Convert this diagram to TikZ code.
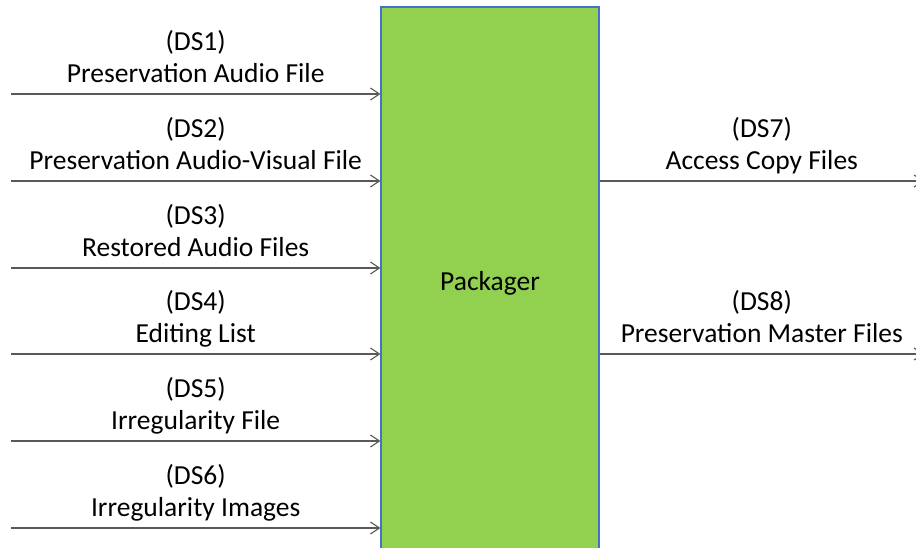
\documentclass[tikz,border=0pt]{standalone}
\usepackage{fontspec}
\setmainfont{Carlito}
\usepackage{tikz}
\usetikzlibrary{arrows.meta}
\definecolor{pkgreen}{RGB}{146,208,80}
\definecolor{pkblue}{RGB}{68,114,196}
\definecolor{pkgray}{RGB}{89,89,89}

\begin{document}
\begin{tikzpicture}[x=1pt, y=-1pt,
  flow/.style={pkgray, line width=1.1pt, -{Straight Barb[length=9pt, width=12pt, line width=1.1pt]}},
  dslabel/.style={above=4.5pt, inner sep=0pt, align=center, text depth=6pt, text=black,
    font=\fontsize{27.5}{32}\selectfont},
  packbox/.style={draw=pkblue, line width=1.2pt, fill=pkgreen, inner sep=0pt,
    minimum width=218pt, minimum height=553pt, font=\fontsize{27.5}{32}\selectfont}]
  \clip (0,0) rectangle (916,548);
  \node[packbox] (packager) at (490,283.5) {Packager};
  % inputs
  \coordinate (ds1) at (11,94);
  \coordinate (ds2) at (11,181);
  \coordinate (ds3) at (11,268);
  \coordinate (ds4) at (11,354);
  \coordinate (ds5) at (11,441);
  \coordinate (ds6) at (11,528);
  \draw[flow] (ds1) -- (ds1 -| packager.west) node[midway, dslabel] {(DS1)\\Preservation Audio File};
  \draw[flow] (ds2) -- (ds2 -| packager.west) node[midway, dslabel] {(DS2)\\Preservation Audio-Visual File};
  \draw[flow] (ds3) -- (ds3 -| packager.west) node[midway, dslabel] {(DS3)\\Restored Audio Files};
  \draw[flow] (ds4) -- (ds4 -| packager.west) node[midway, dslabel] {(DS4)\\Editing List};
  \draw[flow] (ds5) -- (ds5 -| packager.west) node[midway, dslabel] {(DS5)\\Irregularity File};
  \draw[flow] (ds6) -- (ds6 -| packager.west) node[midway, dslabel] {(DS6)\\Irregularity Images};
  % outputs
  \coordinate (ds7) at (924,181);
  \coordinate (ds8) at (924,354);
  \draw[flow] (ds7 -| packager.east) -- (ds7) node[midway, dslabel] {(DS7)\\Access Copy Files};
  \draw[flow] (ds8 -| packager.east) -- (ds8) node[midway, dslabel] {(DS8)\\Preservation Master Files};
\end{tikzpicture}
\end{document}
